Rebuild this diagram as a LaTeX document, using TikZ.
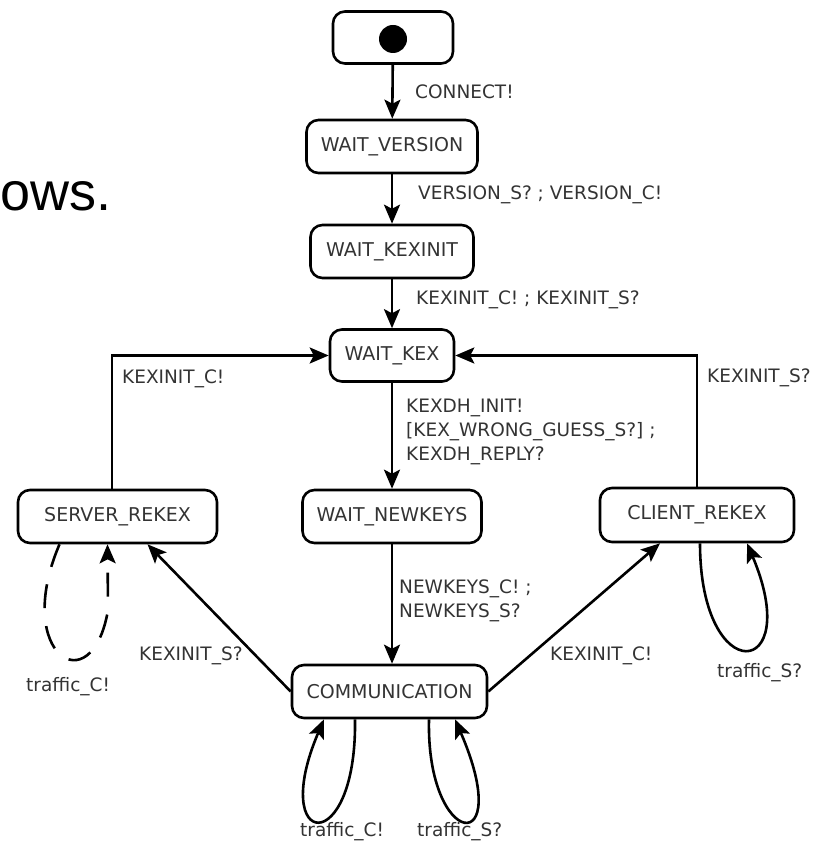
\documentclass[tikz,border=0pt]{standalone}
\usepackage{fontspec}
\setmainfont{DejaVu Sans}
\newfontfamily\owsfont{Liberation Sans}
\usetikzlibrary{arrows.meta}
\tikzset{
  state/.style={draw, line width=2.6pt, rounded corners=12pt, inner sep=0pt,
    font=\fontsize{19}{22}\selectfont, text=black!80},
  lbl/.style={anchor=west, inner sep=0pt, font=\fontsize{18.5}{24}\selectfont,
    text=black!80, align=left},
  arr/.style={line width=2.6pt, -{Stealth[length=19pt,width=16pt,inset=4pt]}},
}
\begin{document}
\begin{tikzpicture}[x=1pt,y=-1pt]
\useasboundingbox (0,0) rectangle (823,842);
\node[anchor=west, inner sep=0pt, font=\owsfont\fontsize{54}{58}\selectfont] (ows) at (0,196) {ows.};

\node[state, minimum width=120, minimum height=52] (start) at (393,37.5) {};
\fill (393,39) circle (14);
\node[state, minimum width=171, minimum height=53] (wv) at (392,146.5) {WAIT\_VERSION};
\node[state, minimum width=163, minimum height=53] (wki) at (392,251.5) {WAIT\_KEXINIT};
\node[state, minimum width=124, minimum height=52] (wk) at (392,355.5) {WAIT\_KEX};
\node[state, minimum width=179, minimum height=53] (wnk) at (392,516.5) {WAIT\_NEWKEYS};
\node[state, minimum width=199, minimum height=53] (srv) at (117.5,516.5) {SERVER\_REKEX};
\node[state, minimum width=194, minimum height=54] (cli) at (697,515) {CLIENT\_REKEX};
\node[state, minimum width=195, minimum height=53] (com) at (389.5,691.5) {COMMUNICATION};

\draw[arr] (start) -- (wv);
\draw[arr] (wv) -- (wki);
\draw[arr] (wki) -- (wk);
\draw[arr] (wk) -- (wnk);
\draw[arr] (wnk.south) -- (wnk.south |- com.north);
\draw[arr] ([xshift=-5.5]srv.north) |- (wk.west);
\draw[arr] (cli.north) |- (wk.east);
\draw[arr] (com.west) -- ([xshift=30]srv.south);
\draw[arr] (com.east) -- ([xshift=-37]cli.south);

% self loops
\draw[arr, dash pattern=on 24pt off 18pt] ([xshift=-58]srv.south) .. controls (12,655) and (92,705) .. (108,610) -- ([xshift=-10]srv.south);
\draw[arr] ([xshift=3]cli.south) .. controls (700,690) and (805,680) .. ([xshift=50]cli.south);
\draw[arr] ([xshift=-34.5]com.south) .. controls (357,860) and (268,850) .. ([xshift=-65.5]com.south);
\draw[arr] ([xshift=39.5]com.south) .. controls (426,850) and (516,860) .. ([xshift=65.5]com.south);

% labels
\node[lbl] (l1) at (415,92) {CONNECT!};
\node[lbl] (l2) at (418,195) {VERSION\_S? ; VERSION\_C!};
\node[lbl] (l3) at (416,300) {KEXINIT\_C! ; KEXINIT\_S?};
\node[lbl] (l4) at (406,432) {KEXDH\_INIT!\\{[}KEX\_WRONG\_GUESS\_S?] ;\\KEXDH\_REPLY?};
\node[lbl] (l5) at (122,379) {KEXINIT\_C!};
\node[lbl] (l6) at (707,378) {KEXINIT\_S?};
\node[lbl] (l7) at (399,601) {NEWKEYS\_C! ;\\NEWKEYS\_S?};
\node[lbl] (l8) at (139,656) {KEXINIT\_S?};
\node[lbl] (l9) at (550,656) {KEXINIT\_C!};
\node[lbl] (l10) at (26,687) {traffic\_C!};
\node[lbl] (l11) at (717,673) {traffic\_S?};
\node[lbl] (l12) at (300,832) {traffic\_C!};
\node[lbl] (l13) at (417,832) {traffic\_S?};
\end{tikzpicture}
\end{document}
